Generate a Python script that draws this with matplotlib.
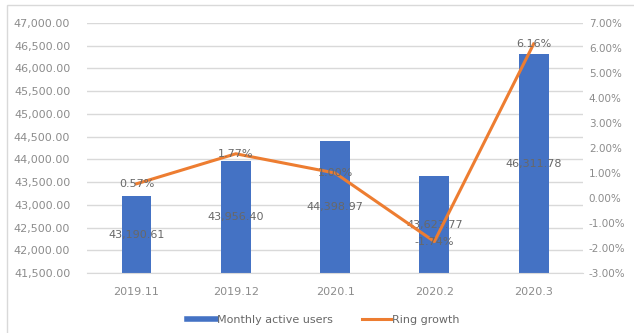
import matplotlib.pyplot as plt
from matplotlib.patches import Rectangle
from matplotlib.lines import Line2D
from matplotlib.ticker import FuncFormatter
import numpy as np

# data
months = ["2019.11", "2019.12", "2020.1", "2020.2", "2020.3"]
active_users = [43190.61, 43956.40, 44398.97, 43623.77, 46311.78]
ring_growth = [0.57, 1.77, 1.00, -1.74, 6.16]  # percent

blue = "#4472C4"
orange = "#ED7D31"
tick_color = "#8c8c8c"
label_color = "#686868"

plt.rcParams["font.family"] = ["DejaVu Sans"]

fig = plt.figure(figsize=(6.34, 3.33), dpi=100)
ax = fig.add_axes([0.137, 0.18, 0.783, 0.751])
ax2 = ax.twinx()

x = np.arange(len(months))
ax.bar(x, active_users, width=0.30, color=blue, zorder=2)
ax.set_ylim(41500, 47000)
ax.set_yticks(np.arange(41500, 47001, 500))
ax.yaxis.set_major_formatter(FuncFormatter(lambda v, p: f"{v:,.2f}"))
ax.grid(axis="y", color="#d9d9d9", lw=1, zorder=0)
ax.set_xlim(-0.5, len(months) - 0.5)
ax.set_xticks(x)
ax.set_xticklabels(months)

for xi, v in zip(x, active_users):
    ax.text(xi, (v + 41500) / 2, f"{v:,.2f}", ha="center", va="center",
            fontsize=8, color=label_color, zorder=5)

ax2.plot(x, ring_growth, color=orange, lw=2.2, zorder=3)
ax2.set_ylim(-3, 7)
ax2.set_yticks(np.arange(-3, 7.01, 1))
ax2.yaxis.set_major_formatter(FuncFormatter(lambda v, p: f"{v:.2f}%"))
for xi, v in zip(x, ring_growth):
    ax2.text(xi, v, f"{v:.2f}%", ha="center", va="center",
             fontsize=8, color=label_color, zorder=5)

for a in (ax, ax2):
    for s in a.spines.values():
        s.set_visible(False)
    a.tick_params(length=0, labelsize=8, colors=tick_color)
ax.spines["bottom"].set_visible(True)
ax.spines["bottom"].set_color("#d9d9d9")
ax.tick_params(axis="y", pad=12)
ax.tick_params(axis="x", pad=10)
ax2.tick_params(axis="y", pad=4, labelsize=7.5)

handles = [Line2D([0], [0], color=blue, lw=4),
           Line2D([0], [0], color=orange, lw=2.2)]
fig.legend(handles, ["Monthly active users", "Ring growth"],
           loc="center", bbox_to_anchor=(0.51, 0.04), ncol=2, frameon=False,
           fontsize=8, labelcolor=label_color, handlelength=2.6,
           handletextpad=0.1, columnspacing=2.6)

# light border of the chart box
fig.patches.append(Rectangle((0.011, -0.02), 1.0, 1.005, transform=fig.transFigure,
                             fill=False, edgecolor="#d9d9d9", lw=1))

fig.savefig("out.png", dpi=100)
